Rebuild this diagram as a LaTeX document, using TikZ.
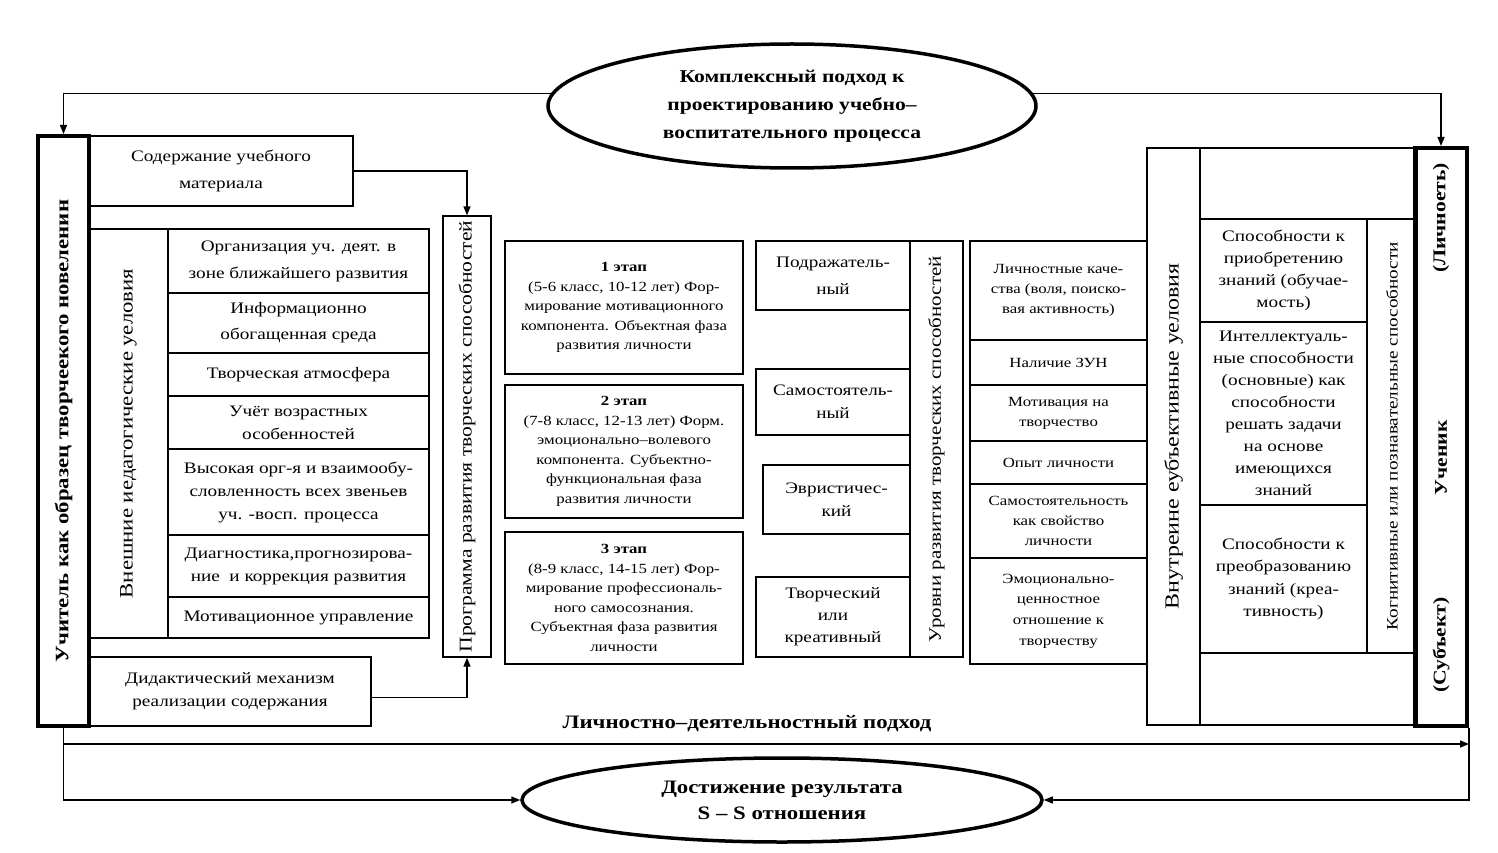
\documentclass[tikz,border=0pt]{standalone}
\usepackage{fontspec}
\setmainfont[FakeStretch=1.2]{Liberation Serif}
\usetikzlibrary{arrows.meta,shapes.geometric}

\begin{document}
\begin{tikzpicture}[x=1pt,y=-1pt,
    box/.style={draw,line width=1.4pt,inner sep=0pt,align=center,font=\fontsize{16}{23}\selectfont},
    stage/.style={draw,line width=2.2pt,inner sep=0pt,align=center,font=\fontsize{14}{19.5}\selectfont},
    fact/.style={draw,line width=1.4pt,inner sep=0pt,align=center,font=\fontsize{14}{20}\selectfont},
    vbox/.style={draw,line width=1.4pt,inner sep=0pt,rotate=90,font=\fontsize{19}{22}\selectfont},
    heavy/.style={draw,line width=4pt,inner sep=0pt},
    bold/.style={inner sep=0pt,font=\bfseries\fontsize{18}{22}\selectfont},
    oval/.style={draw,ellipse,line width=3.5pt,inner sep=0pt,align=center,font=\bfseries\fontsize{18}{28}\selectfont},
    arr/.style={line width=1.4pt,-{Triangle[length=9pt,width=7pt]}}]
    \useasboundingbox (0,0) rectangle (1498,853);

    % approaches
    \node[oval,minimum width=488pt,minimum height=124pt] (kp) at (792,106) {Комплексный подход к\\проектированию учебно–\\воспитательного процесса};
    \node[oval,minimum width=520pt,minimum height=84pt,font=\bfseries\fontsize{19}{26}\selectfont] (res) at (782,800) {Достижение результата\\S – S отношения};

    % teacher side
    \node[heavy,minimum width=51pt,minimum height=590pt] (teach) at (63.5,431) {};
    \node[bold,rotate=90,font=\bfseries\fontsize{19}{22}\selectfont] (teachtxt) at (teach.center) {Учитель как образец творчеекого новеленин};
    \node[box,minimum width=264pt,minimum height=70pt,font=\fontsize{16}{27}\selectfont] (cont) at (221,171) {Содержание учебного\\материала};
    \node[vbox,minimum width=409pt,minimum height=79pt] (ext) at (128.5,433.5) {Внешние иедагогические уеловия};
    \node[box,minimum width=261pt,minimum height=64pt,font=\fontsize{16}{27}\selectfont] (org) at (298.5,261) {Организация уч. деят. в\\зоне ближайшего развития};
    \node[box,minimum width=261pt,minimum height=60pt,font=\fontsize{16}{26}\selectfont] (info) at (298.5,323) {Информационно\\обогащенная среда};
    \node[box,minimum width=261pt,minimum height=43pt] (atm) at (298.5,374.5) {Творческая атмосфера};
    \node[box,minimum width=261pt,minimum height=53pt] (age) at (298.5,422.5) {Учёт возрастных\\особенностей};
    \node[box,minimum width=261pt,minimum height=86pt] (high) at (298.5,492) {Высокая орг-я и взаимообу-\\словленность всех звеньев\\уч. -восп. процесса};
    \node[box,minimum width=261pt,minimum height=62pt] (diag) at (298.5,566) {Диагностика,прогнозирова-\\ние~~и коррекция развития};
    \node[box,minimum width=261pt,minimum height=41pt] (motv) at (298.5,617.5) {Мотивационное управление};
    \node[box,minimum width=282pt,minimum height=69pt] (did) at (230,691.5) {Дидактический механизм\\реализации содержания};
    \node[vbox,minimum width=441pt,minimum height=48pt,font=\fontsize{18}{22}\selectfont] (prog) at (467,436.5) {Программа развития творческих способностей};

    % stages
    \node[stage,minimum width=238pt,minimum height=133pt] (st1) at (624,307.5) {\textbf{1 этап}\\(5-6 класс, 10-12 лет) Фор-\\мирование мотивационного\\компонента. Объектная фаза\\развития личности};
    \node[stage,minimum width=238pt,minimum height=133pt] (st2) at (624,451.5) {\textbf{2 этап}\\(7-8 класс, 12-13 лет) Форм.\\эмоционально–волевого\\компонента. Субъектно-\\функциональная фаза\\развития личности};
    \node[stage,minimum width=238pt,minimum height=132pt] (st3) at (624,598) {\textbf{3 этап}\\(8-9 класс, 14-15 лет) Фор-\\мирование профессиональ-\\ного самосознания.\\Субъектная фаза развития\\личности};

    % levels
    \node[box,minimum width=154pt,minimum height=69pt,font=\fontsize{16}{27}\selectfont] (imit) at (833,275.5) {Подражатель-\\ный};
    \node[box,minimum width=154pt,minimum height=66pt] (indep) at (833,402) {Самостоятель-\\ный};
    \node[box,minimum width=147pt,minimum height=69pt] (heur) at (836.5,499.5) {Эвристичес-\\кий};
    \node[box,minimum width=154pt,minimum height=80pt,font=\fontsize{16}{22}\selectfont] (creat) at (833,617) {Творческий\\или\\креативный};
    \node[vbox,minimum width=416pt,minimum height=53pt,font=\fontsize{17.5}{22}\selectfont] (lev) at (936.5,449) {Уровни развития творческих способностей};

    % factors
    \node[fact,minimum width=177pt,minimum height=99pt] (f1) at (1058.5,290.5) {Личностные каче-\\ства (воля, поиско-\\вая активность)};
    \node[fact,minimum width=177pt,minimum height=45pt] (f2) at (1058.5,362.5) {Наличие ЗУН};
    \node[fact,minimum width=177pt,minimum height=56pt] (f3) at (1058.5,413) {Мотивация на\\творчество};
    \node[fact,minimum width=177pt,minimum height=43pt] (f4) at (1058.5,462.5) {Опыт личности};
    \node[fact,minimum width=177pt,minimum height=74pt] (f5) at (1058.5,521) {Самостоятельность\\как свойство\\личности};
    \node[fact,minimum width=177pt,minimum height=106pt,font=\fontsize{14}{20.7}\selectfont] (f6) at (1058.5,611) {Эмоционально-\\ценностное\\отношение к\\творчеству};

    % pupil side
    \node[vbox,minimum width=577pt,minimum height=53pt,font=\fontsize{20}{22}\selectfont] (inner) at (1173.5,436.5) {Внутреине еубъективные уеловия};
    \node[box,minimum width=217pt,minimum height=71pt] (topcell) at (1308.5,183.5) {};
    \node[box,minimum width=167pt,minimum height=103pt,font=\fontsize{16}{22}\selectfont] (c1) at (1283.5,270.5) {Способности к\\приобретению\\знаний (обучае-\\мость)};
    \node[box,minimum width=167pt,minimum height=183pt,font=\fontsize{16}{22}\selectfont] (c2) at (1283.5,413.5) {Интеллектуаль-\\ные способности\\(основные) как\\способности\\решать задачи\\на основе\\имеющихся\\знаний};
    \node[box,minimum width=167pt,minimum height=148pt,font=\fontsize{16}{22.5}\selectfont] (c3) at (1283.5,579) {Способности к\\преобразованию\\знаний (креа-\\тивность)};
    \node[vbox,minimum width=434pt,minimum height=50pt,font=\fontsize{16}{18}\selectfont] (cog) at (1392,436) {Когнитивные или познавательные способности};
    \node[box,minimum width=217pt,minimum height=72pt] (botcell) at (1308.5,689) {};
    \node[heavy,minimum width=52pt,minimum height=578pt] (stud) at (1441,437) {};
    \node[bold,rotate=90] (lich) at (1441,218) {(Личноеть)};
    \node[bold,rotate=90] (uch) at (1441,458) {Ученик};
    \node[bold,rotate=90] (subj) at (1441,645) {(Субъект)};

    \node[bold,font=\bfseries\fontsize{19}{22}\selectfont] (lda) at (747,724) {Личностно–деятельностный подход};
    \coordinate (fork) at (63.5,744);

    % connectors
    \draw[arr] (kp.177) -| (teach.north);
    \draw[arr] (kp.3) -| (stud.north);
    \draw[arr] (cont.east) -| (prog.east);
    \draw[arr] ([yshift=-6pt]did.east) -| (prog.west);
    \draw[arr] (teach.south) |- (res.west);
    \draw[arr] (fork) -- (fork -| stud.south east);
    \draw[arr] (stud.south east) |- (res.east);
\end{tikzpicture}
\end{document}
